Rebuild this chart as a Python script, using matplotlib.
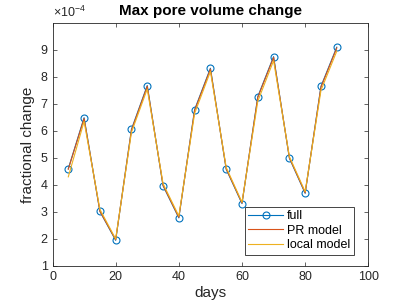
import matplotlib
matplotlib.use("Agg")
import matplotlib.pyplot as plt

plt.rcParams['font.family'] = ['Liberation Sans', 'DejaVu Sans']
plt.rcParams['mathtext.fontset'] = 'custom'
plt.rcParams['mathtext.rm'] = 'Liberation Sans'

days = [5, 10, 15, 20, 25, 30, 35, 40, 45, 50, 55, 60, 65, 70, 75, 80, 85, 90]
full = [4.60, 6.49, 3.02, 1.95, 6.06, 7.68, 3.97, 2.78, 6.79, 8.32, 4.58, 3.31, 7.27, 8.75, 4.99, 3.69, 7.65, 9.10]
pr_model = [4.58, 6.46, 3.03, 1.97, 6.03, 7.65, 3.99, 2.80, 6.76, 8.29, 4.60, 3.33, 7.24, 8.72, 5.01, 3.71, 7.62, 9.07]
local_model = [4.30, 6.35, 3.10, 2.00, 5.95, 7.55, 4.05, 2.85, 6.65, 8.20, 4.65, 3.36, 7.10, 8.60, 5.05, 3.75, 7.50, 8.95]

xticks = [0, 20, 40, 60, 80, 100]
yticks = [1, 2, 3, 4, 5, 6, 7, 8, 9]

fig = plt.figure(figsize=(4.07, 3.05), dpi=100)
ax = fig.add_axes([0.129, 0.128, 0.776, 0.797])

ax.plot(days, full, color='#0072BD', lw=0.8, marker='o', ms=5, mfc='none', mew=0.8, label='full')
ax.plot(days, pr_model, color='#D95319', lw=0.8, label='PR model')
ax.plot(days, local_model, color='#EDB120', lw=0.8, label='local model')

ax.set_xlim(0, 100)
ax.set_ylim(1, 10)
ax.set_xticks(xticks)
ax.set_yticks(yticks)
ax.tick_params(direction='in', top=True, right=True, labelsize=9, colors='#262626', length=3, width=0.5)
for s in ax.spines.values():
    s.set_color('#262626')
    s.set_linewidth(0.6)

ax.set_xlabel('days', fontsize=11, color='#262626', labelpad=2)
ax.set_ylabel('fractional change', fontsize=11, color='#262626', labelpad=4)
ax.set_title('Max pore volume change', fontsize=11, fontweight='bold', pad=6)
ax.text(0.0, 1.012, r'$\times10^{-4}$', transform=ax.transAxes, fontsize=9, color='#262626', ha='left', va='bottom')

leg = ax.legend(loc='lower right', bbox_to_anchor=(354/407, 1 - 255/305), bbox_transform=fig.transFigure,
                fontsize=9, fancybox=False, framealpha=1, edgecolor='#262626', borderpad=0.3,
                labelspacing=0.2, handlelength=2.8, handletextpad=0.3, borderaxespad=0)
leg.get_frame().set_linewidth(0.6)

fig.savefig('out.png', dpi=100)
